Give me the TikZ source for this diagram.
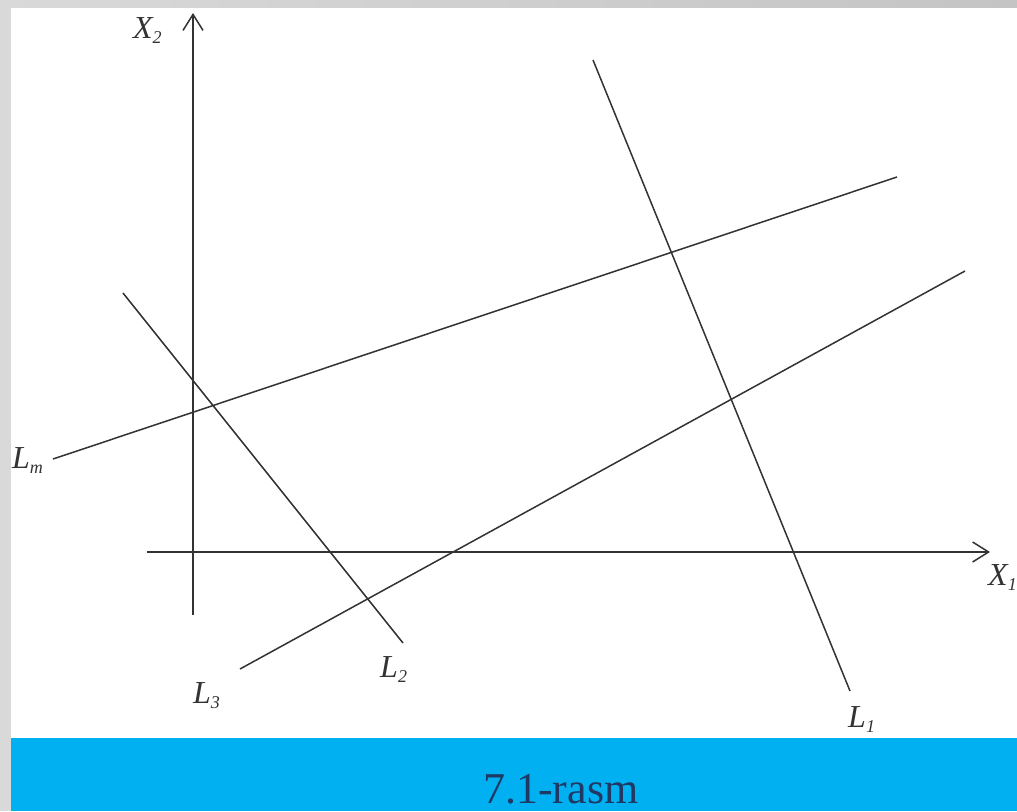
\documentclass[tikz,border=0pt]{standalone}
\usepackage{fontspec}
\setmainfont{Liberation Serif}
\usetikzlibrary{arrows.meta}
\definecolor{ln}{HTML}{333333}
\definecolor{band}{HTML}{00B0F0}
\definecolor{capc}{HTML}{1F3864}
\definecolor{edgegray}{HTML}{D9D9D9}
\definecolor{edgedark}{HTML}{C4C4C4}
\newcommand\sbs[1]{\raisebox{-5pt}{\fontsize{18}{18}\selectfont #1}}
\begin{document}
\begin{tikzpicture}[x=1pt,y=-1pt,
  ln/.style={draw=ln,line width=1.5pt},
  axis/.style={ln,-{Straight Barb[length=16pt,width=20pt,line width=1.5pt]}},
  lab/.style={font=\fontsize{32}{34}\selectfont\itshape,text=ln,inner sep=0pt,anchor=base west}]
\useasboundingbox (0,0) rectangle (1017,811);
% background
\fill[white] (0,0) rectangle (1017,811);
\shade[left color=edgegray,right color=edgedark] (0,0) rectangle (1017,7);
\fill[edgegray] (0,0) rectangle (11,811);
\fill[band] (11,738) rectangle (1017,811);
\node[font=\fontsize{44}{46}\selectfont,text=capc,inner sep=0pt,anchor=base west] (cap) at (483,803) {7.1-rasm};
% axes
\coordinate (x2b) at (193,615);
\coordinate (x2t) at (193,13);
\coordinate (x1l) at (147,552);
\coordinate (x1r) at (990,552);
\draw[axis] (x2b) -- (x2t);
\draw[axis] (x1l) -- (x1r);
\node[lab] (X2) at (133,38) {X\sbs{2}};
\node[lab] (X1) at (988,585) {X\sbs{1}};
% lines
\coordinate (lma) at (53,459);
\coordinate (lmb) at (897,177);
\coordinate (l2a) at (123,293);
\coordinate (l2b) at (403,643);
\coordinate (l3a) at (240,669);
\coordinate (l3b) at (965,271);
\coordinate (l1a) at (593,60);
\coordinate (l1b) at (850,691);
\draw[ln] (lma) -- (lmb);
\draw[ln] (l2a) -- (l2b);
\draw[ln] (l3a) -- (l3b);
\draw[ln] (l1a) -- (l1b);
\node[lab] (Lm) at (12,468) {L\sbs{m}};
\node[lab] (L2) at (380,677) {L\sbs{2}};
\node[lab] (L3) at (193,703) {L\sbs{3}};
\node[lab] (L1) at (848,727) {L\sbs{1}};
\end{tikzpicture}
\end{document}
